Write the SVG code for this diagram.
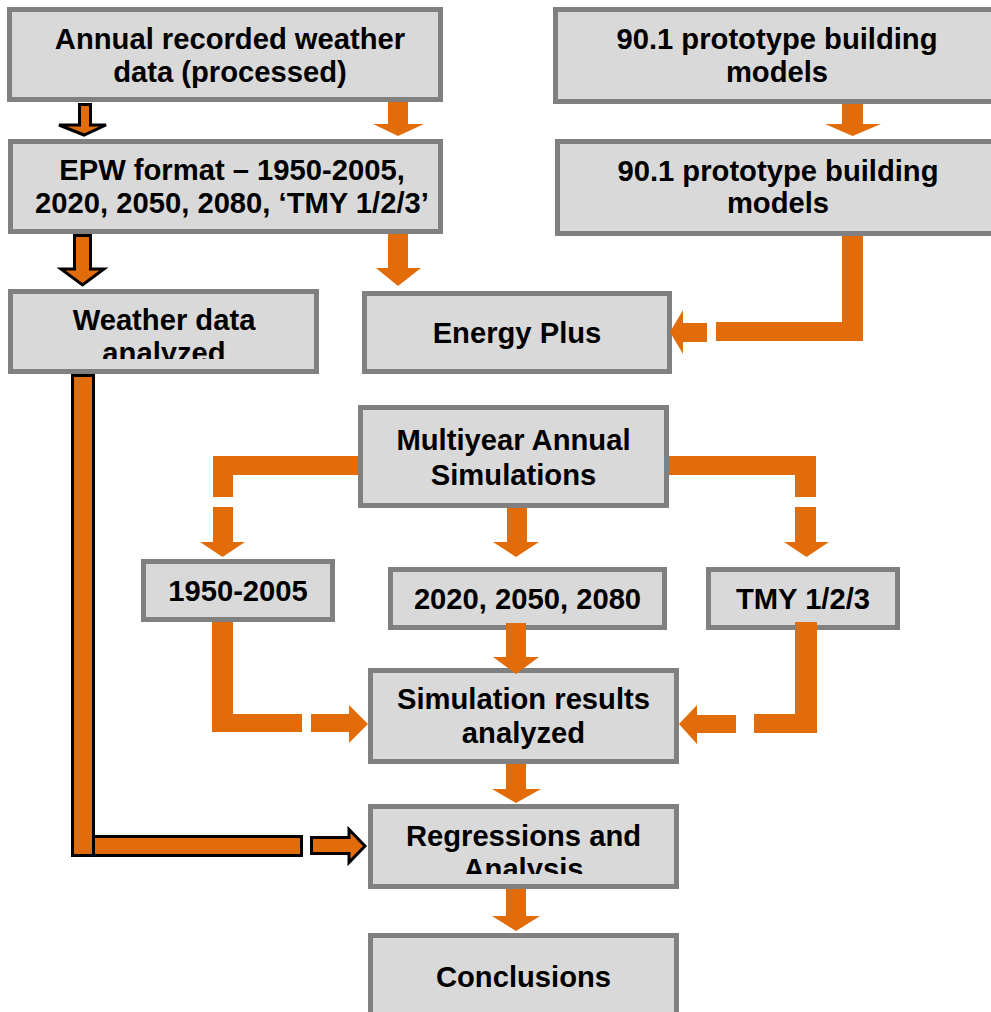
<svg xmlns="http://www.w3.org/2000/svg" width="991" height="1012" viewBox="0 0 991 1012">
<style>
.box{fill:#d9d9d9;stroke:#808080;stroke-width:5}
.t{font-family:"Liberation Sans",Arial,sans-serif;font-weight:bold;font-size:29.2px;fill:#000;text-anchor:middle}
.o{fill:#e36c0a}
.b{fill:#e36c0a;stroke:#000;stroke-width:3}
</style>
<defs>
<clipPath id="c3"><rect x="12" y="294" width="305" height="65"/></clipPath>
<clipPath id="c12"><rect x="373" y="809" width="302" height="65"/></clipPath>
</defs>
<rect width="991" height="1012" fill="#fff"/>
<g id="n1"><rect class="box" x="9.5" y="9.5" width="431" height="90"/><text class="t" x="230" y="49">Annual recorded weather</text><text class="t" x="230" y="82">data (processed)</text></g>
<g id="n2"><rect class="box" x="10.5" y="141.5" width="430" height="90"/><text class="t" x="232" y="180">EPW format – 1950-2005,</text><text class="t" x="232" y="213">2020, 2050, 2080, ‘TMY 1/2/3’</text></g>
<g id="n3"><rect class="box" x="10.5" y="291.5" width="306" height="80"/><g clip-path="url(#c3)"><text class="t" x="164" y="330">Weather data</text><text class="t" x="164" y="363">analyzed</text></g></g>
<g id="n4"><rect class="box" x="364.5" y="293.5" width="305" height="78"/><text class="t" x="517" y="343">Energy Plus</text></g>
<g id="n5"><rect class="box" x="555.5" y="9.5" width="445" height="92"/><text class="t" x="777" y="49">90.1 prototype building</text><text class="t" x="777" y="82">models</text></g>
<g id="n6"><rect class="box" x="557.5" y="141.5" width="441" height="92"/><text class="t" x="778" y="181">90.1 prototype building</text><text class="t" x="778" y="213">models</text></g>
<g id="n7"><rect class="box" x="360.5" y="407.5" width="306" height="98"/><text class="t" x="513.5" y="450">Multiyear Annual</text><text class="t" x="513.5" y="485">Simulations</text></g>
<g id="n8"><rect class="box" x="143.5" y="561.5" width="189" height="58"/><text class="t" x="238" y="601">1950-2005</text></g>
<g id="n9"><rect class="box" x="390.5" y="569.5" width="274" height="58"/><text class="t" x="527.5" y="609">2020, 2050, 2080</text></g>
<g id="n10"><rect class="box" x="708.5" y="569.5" width="189" height="58"/><text class="t" x="803" y="609">TMY 1/2/3</text></g>
<g id="n11"><rect class="box" x="370.5" y="670.5" width="306" height="91"/><text class="t" x="523.5" y="709">Simulation results</text><text class="t" x="523.5" y="743">analyzed</text></g>
<g id="n12"><rect class="box" x="370.5" y="806.5" width="306" height="80"/><g clip-path="url(#c12)"><text class="t" x="523.5" y="846">Regressions and</text><text class="t" x="523.5" y="879">Analysis</text></g></g>
<g id="n13"><rect class="box" x="370.5" y="935.5" width="306" height="90"/><text class="t" x="523.5" y="987">Conclusions</text></g>
<g id="connectors">
<polygon class="b" points="79.5,104.5 90.5,104.5 90.5,125 106,125 84,135 59,125 79.5,125"/>
<polygon class="b" points="74.5,235.5 90.5,235.5 90.5,269 104,269 82.5,285 61,269 74.5,269"/>
<rect class="b" x="72.5" y="375.5" width="21" height="480"/>
<rect class="b" x="93.5" y="836.5" width="208" height="19"/>
<polygon class="b" points="311.5,837.5 349,837.5 349,829.5 365,846 349,862.5 349,853.5 311.5,853.5"/>
<polygon class="o" points="388,102 408,102 408,124 424,124 398,136 373,124 388,124"/>
<polygon class="o" points="388,234 408,234 408,268 421,268 398,286 376,268 388,268"/>
<polygon class="o" points="842,104 863,104 863,124 881,124 852.5,136 825,124 842,124"/>
<polygon class="o" points="842,236 863,236 863,341 716,341 716,322 842,322"/>
<polygon class="o" points="707,323 707,342 683,342 683,354 670,332 683,310 683,323"/>
<polygon class="o" points="358,456 358,475 233,475 233,497 213,497 213,456"/>
<polygon class="o" points="213,507 233,507 233,542 245,542 222.5,557 200,542 213,542"/>
<polygon class="o" points="507,508 527,508 527,542 539,542 516,557 493,542 507,542"/>
<polygon class="o" points="669,456 816,456 816,497 795,497 795,475 669,475"/>
<polygon class="o" points="795,507 816,507 816,542 829,542 806.5,557 784,542 795,542"/>
<polygon class="o" points="212,622 233,622 233,714 302,714 302,732 212,732"/>
<polygon class="o" points="311,714 349,714 349,705 368,724 349,743 349,732 311,732"/>
<polygon class="o" points="506,623 526,623 526,657 539,657 516,674 493,657 506,657"/>
<polygon class="o" points="795,622 817,622 817,733 754,733 754,714 795,714"/>
<polygon class="o" points="736,715 736,733 697,733 697,744 679,724 697,705 697,715"/>
<polygon class="o" points="506,764 526,764 526,789 541,789 516,803 492,789 506,789"/>
<polygon class="o" points="506,889 526,889 526,916 540,916 516,931 492,916 506,916"/>
</g>
</svg>
